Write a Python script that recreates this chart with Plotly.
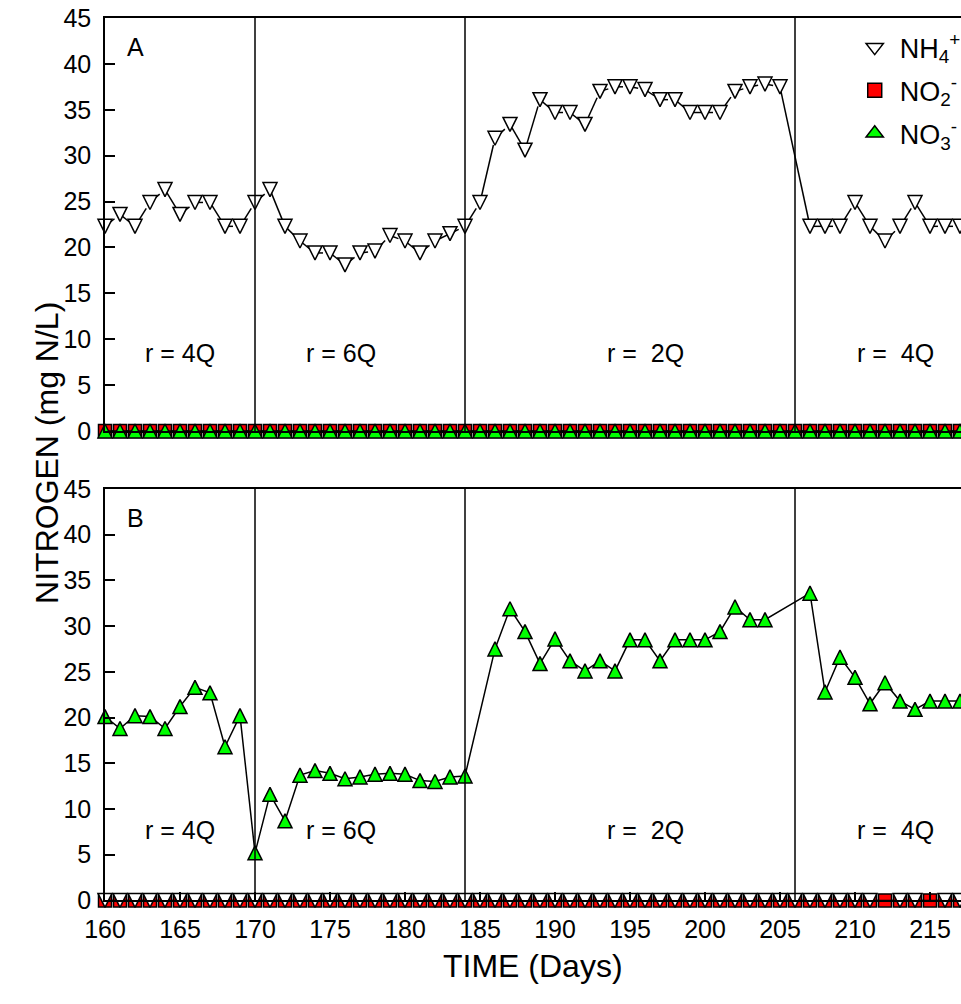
import plotly.graph_objects as go

# Sampling days
days_all = [160, 161, 162, 163, 164, 165, 166, 167, 168, 169,
            170, 171, 172, 173, 174, 175, 176, 177, 178, 179,
            180, 181, 182, 183, 184, 185, 186, 187, 188, 189,
            190, 191, 192, 193, 194, 195, 196, 197, 198, 199,
            200, 201, 202, 203, 204, 205, 206, 207, 208, 209,
            210, 211, 212, 213, 214, 215, 216, 217]
zeros_all = [0, 0, 0, 0, 0, 0, 0, 0, 0, 0,
             0, 0, 0, 0, 0, 0, 0, 0, 0, 0,
             0, 0, 0, 0, 0, 0, 0, 0, 0, 0,
             0, 0, 0, 0, 0, 0, 0, 0, 0, 0,
             0, 0, 0, 0, 0, 0, 0, 0, 0, 0,
             0, 0, 0, 0, 0, 0, 0, 0]

# Panel A: ammonium (NO2 and NO3 stay at zero)
days_a_nh4 = [160, 161, 162, 163, 164, 165, 166, 167, 168, 169,
              170, 171, 172, 173, 174, 175, 176, 177, 178, 179,
              180, 181, 182, 183, 184, 185, 186, 187, 188, 189,
              190, 191, 192, 193, 194, 195, 196, 197, 198, 199,
              200, 201, 202, 203, 204, 205, 207, 208, 209,
              210, 211, 212, 213, 214, 215, 216, 217]
nh4_a = [22.3, 23.6, 22.3, 24.9, 26.3, 23.6, 24.9, 24.9, 22.3, 22.3,
         24.9, 26.3, 22.3, 20.7, 19.4, 19.4, 18.1, 19.4, 19.6, 21.3,
         20.7, 19.4, 20.7, 21.5, 22.3, 24.9, 31.9, 33.4, 30.6, 36.1,
         34.7, 34.7, 33.4, 37.0, 37.5, 37.5, 37.2, 36.1, 36.1, 34.7,
         34.7, 34.7, 37.0, 37.5, 37.8, 37.5, 22.3, 22.3, 22.3,
         24.9, 22.3, 20.7, 22.3, 24.9, 22.3, 22.3, 22.3]
no2_a = zeros_all
no3_a = zeros_all

# Panel B: nitrate (NH4 and NO2 stay at zero)
days_b_no3 = [160, 161, 162, 163, 164, 165, 166, 167, 168, 169,
              170, 171, 172, 173, 174, 175, 176, 177, 178, 179,
              180, 181, 182, 183, 184, 186, 187, 188, 189,
              190, 191, 192, 193, 194, 195, 196, 197, 198, 199,
              200, 201, 202, 203, 204, 207, 208, 209,
              210, 211, 212, 213, 214, 215, 216, 217]
no3_b = [20.1, 18.8, 20.2, 20.1, 18.8, 21.2, 23.3, 22.7, 16.8, 20.2,
         5.2, 11.6, 8.7, 13.7, 14.2, 13.9, 13.3, 13.5, 13.8, 13.9,
         13.8, 13.1, 13.0, 13.5, 13.6, 27.5, 31.9, 29.4, 25.9,
         28.6, 26.2, 25.1, 26.2, 25.1, 28.5, 28.5, 26.2, 28.5, 28.5,
         28.5, 29.4, 32.1, 30.7, 30.7, 33.6, 22.8, 26.6,
         24.4, 21.5, 23.8, 21.8, 20.9, 21.8, 21.8, 21.8]
no2_b = zeros_all
days_b_nh4 = [160, 161, 162, 163, 164, 165, 166, 167, 168, 169,
              170, 171, 172, 173, 174, 175, 176, 177, 178, 179,
              180, 181, 182, 183, 184, 185, 186, 187, 188, 189,
              190, 191, 192, 193, 194, 195, 196, 197, 198, 199,
              200, 201, 202, 203, 204, 205, 206, 207, 208, 209,
              210, 211, 213, 214, 216, 217]
nh4_b = [0, 0, 0, 0, 0, 0, 0, 0, 0, 0,
         0, 0, 0, 0, 0, 0, 0, 0, 0, 0,
         0, 0, 0, 0, 0, 0, 0, 0, 0, 0,
         0, 0, 0, 0, 0, 0, 0, 0, 0, 0,
         0, 0, 0, 0, 0, 0, 0, 0, 0, 0,
         0, 0, 0, 0, 0, 0]

# Recycle-ratio periods
regime_breaks = [170, 184, 206]
regime_labels = ["r = 4Q", "r = 6Q", "r =\u00a0 2Q", "r =\u00a0 4Q"]
regime_label_x = [165.0, 175.7, 196.0, 212.7]

FONT = "Liberation Sans, Arial, Helvetica, sans-serif"
EDGE = dict(color="black", width=1.5)
# Isosceles triangles (as tall as wide), centred on the data point
TRI_DOWN = dict(symbol="arrow-down", angle=0, standoff=7, size=14,
                color="white", line=EDGE)
TRI_UP = dict(symbol="arrow-down", angle=180, standoff=7, size=14,
              color="#00ff00", line=EDGE)
SQUARE = dict(symbol="square", size=13, color="#ff0000", line=EDGE)
LINE = dict(color="black", width=1.5)

fig = go.Figure()


def series(x, y, marker, xa, ya):
    fig.add_trace(go.Scatter(
        x=x, y=y, mode="lines+markers", line=LINE, marker=marker,
        xaxis=xa, yaxis=ya, showlegend=False, cliponaxis=False,
        hoverinfo="x+y"))


# Panel A
series(days_a_nh4, nh4_a, TRI_DOWN, "x2", "y2")
series(days_all, no2_a, SQUARE, "x2", "y2")
series(days_all, no3_a, TRI_UP, "x2", "y2")
# Panel B
series(days_b_no3, no3_b, TRI_UP, "x", "y")
series(days_all, no2_b, SQUARE, "x", "y")
series(days_b_nh4, nh4_b, TRI_DOWN, "x", "y")

# Legend entries (plain centred symbols)
legend_items = [
    ("NH<sub>4</sub><sup>+</sup>",
     dict(symbol="triangle-down", size=15, color="white", line=EDGE)),
    ("NO<sub>2</sub><sup>-</sup>",
     dict(symbol="square", size=14, color="#ff0000", line=EDGE)),
    ("NO<sub>3</sub><sup>-</sup>",
     dict(symbol="triangle-up", size=15, color="#00ff00", line=EDGE)),
]
for i, (name, mk) in enumerate(legend_items):
    fig.add_trace(go.Scatter(
        x=[None], y=[None], mode="markers", marker=mk, name=name,
        xaxis="x2", yaxis="y2", legendgroup=f"g{i}", showlegend=True))

shapes = []
annotations = []
for xa, ya, letter, label_y in (("x2", "y2", "A", 8.5), ("x", "y", "B", 7.7)):
    for b in regime_breaks:
        shapes.append(dict(type="line", xref=xa, yref=ya, x0=b, x1=b,
                           y0=0, y1=45, line=dict(color="black", width=1.5),
                           layer="above"))
    for lx, lt in zip(regime_label_x, regime_labels):
        annotations.append(dict(xref=xa, yref=ya, x=lx, y=label_y, text=lt,
                                showarrow=False, font=dict(size=25)))
    annotations.append(dict(xref=xa, yref=ya, x=162.0, y=41.8, text=letter,
                            showarrow=False, font=dict(size=25)))

annotations.append(dict(xref="paper", yref="paper", x=-0.091, y=0.549,
                        text="NITROGEN (mg N/L)", textangle=-90,
                        showarrow=False, font=dict(size=32)))
annotations.append(dict(xref="paper", yref="paper", x=0.5, y=0.018,
                        text="TIME (Days)", showarrow=False,
                        font=dict(size=32)))

XR = [160, 160 + 856 / 15.0]
axis_common = dict(showline=True, linecolor="black", linewidth=1.5,
                   showgrid=False, zeroline=False)
y_common = dict(axis_common, range=[0, 45], tick0=0, dtick=5,
                ticks="inside", ticklen=10, tickwidth=1.5,
                tickcolor="black", tickfont=dict(size=25),
                ticklabelstandoff=7, mirror=False)

fig.update_layout(
    width=961, height=1004,
    margin=dict(l=105, r=0, t=0, b=0, autoexpand=False),
    paper_bgcolor="white", plot_bgcolor="white",
    font=dict(family=FONT, color="black"),
    xaxis=dict(axis_common, domain=[0, 1], anchor="y", range=XR,
               tick0=160, dtick=5, ticks="inside", ticklen=9,
               tickwidth=1.5, tickcolor="black", tickfont=dict(size=25),
               ticklabelstandoff=6, mirror=True),
    yaxis=dict(y_common, domain=[0.1032, 0.5130], anchor="x"),
    xaxis2=dict(axis_common, domain=[0, 1], anchor="y2", range=XR,
                matches="x", showticklabels=False, ticks="", mirror=True),
    yaxis2=dict(y_common, domain=[0.5707, 0.9821], anchor="x2"),
    legend=dict(x=0.870, y=0.977, xref="paper", yref="paper",
                xanchor="left", yanchor="top", bgcolor="rgba(0,0,0,0)",
                font=dict(size=27), itemwidth=40, tracegroupgap=5,
                traceorder="grouped"),
    shapes=shapes,
    annotations=annotations,
    showlegend=True,
)

fig.write_html("out.html")
